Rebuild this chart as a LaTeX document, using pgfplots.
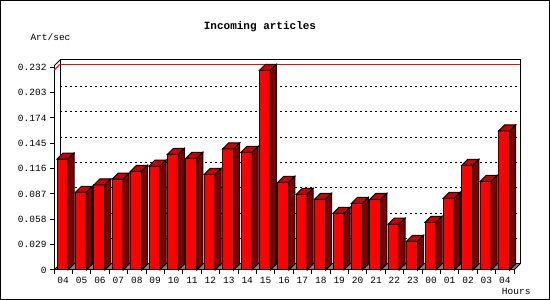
\documentclass[border=0pt]{standalone}
\usepackage{fontspec}
\setmonofont{Liberation Mono}
\usepackage{pgfplots}
\usepackage{pgfplotstable}
\pgfplotsset{compat=1.18}
\definecolor{topred}{RGB}{200,0,0}
\definecolor{sidered}{RGB}{128,0,0}
\definecolor{floorgray}{RGB}{128,128,128}

\pgfplotstableread{
i v
0 0.127
1 0.0889
2 0.0973
3 0.104
4 0.113
5 0.119
6 0.1324
7 0.1278
8 0.1095
9 0.1385
10 0.1347
11 0.2285
12 0.1004
13 0.0866
14 0.0809
15 0.0649
16 0.0763
17 0.0809
18 0.0526
19 0.0328
20 0.0546
21 0.0821
22 0.1198
23 0.1015
24 0.1591
}\datatable

\pgfdeclareplotmark{box3d}{%
  \pgfmathsetmacro{\bh}{-\barval*873.66}%
  \pgfmathsetmacro{\bhb}{\bh+6}%
  \pgfsetlinewidth{1pt}%
  \pgfsetstrokecolor{black}%
  \pgfsetfillcolor{topred}%
  \pgfpathmoveto{\pgfpoint{-6.2pt}{0pt}}%
  \pgfpathlineto{\pgfpoint{-0.2pt}{6pt}}%
  \pgfpathlineto{\pgfpoint{10.8pt}{6pt}}%
  \pgfpathlineto{\pgfpoint{4.8pt}{0pt}}%
  \pgfpathclose
  \pgfusepath{fill,stroke}%
  \pgfsetfillcolor{sidered}%
  \pgfpathmoveto{\pgfpoint{4.8pt}{0pt}}%
  \pgfpathlineto{\pgfpoint{10.8pt}{6pt}}%
  \pgfpathlineto{\pgfpoint{10.8pt}{\bhb pt}}%
  \pgfpathlineto{\pgfpoint{4.8pt}{\bh pt}}%
  \pgfpathclose
  \pgfusepath{fill,stroke}%
}

\begin{document}
\begin{tikzpicture}[x=1pt,y=1pt]
\useasboundingbox (0,0) rectangle (550,300);
\draw[line width=1pt] (0.5,0.5) rectangle (549.5,299.5);
\draw[line width=1pt, fill=white] (60,36) rectangle (520,240);
\fill[floorgray] (54,30) -- (514,30) -- (520,36) -- (60,36) -- cycle;
\draw[line width=1pt] (54,234) -- (60,240);
\draw[line width=1pt] (54,30) -- (60,36);
\draw[line width=1pt] (514,30) -- (520,36);
\node[font=\ttfamily\bfseries\fontsize{11}{12}\selectfont] at (260,273) {Incoming articles};
\node[font=\ttfamily\fontsize{9.5}{10}\selectfont, anchor=west] at (27,263) {Art/sec};
\node[font=\ttfamily\fontsize{9.5}{10}\selectfont, anchor=east] at (534,9) {Hours};
\begin{axis}[
  at={(54pt,30pt)}, anchor=south west,
  scale only axis, width=460pt, height=204pt,
  xmin=-0.5, xmax=24.5, ymin=0, ymax=0.2335,
  clip=false,
  axis x line*=bottom, axis y line*=left,
  axis line style={line width=1pt, -},
  ytick={0,0.029,0.058,0.087,0.116,0.145,0.174,0.203},
  yticklabels={0,0.029,0.058,0.087,0.116,0.145,0.174,0.203},
  extra y ticks={0.232},
  extra y tick labels={0.232},
  extra y tick style={grid=none},
  xtick={0,...,24},
  xticklabels={04,05,06,07,08,09,10,11,12,13,14,15,16,17,18,19,20,21,22,23,00,01,02,03,04},
  minor xtick={-0.5,0.5,...,24.5},
  major x tick style={draw=none},
  tick align=outside,
  major tick length=4pt, minor tick length=4pt,
  tick style={black, line width=1pt},
  ymajorgrids,
  major grid style={black, line width=1pt, dash pattern=on 2pt off 3pt, xshift=6pt, yshift=6pt},
  ticklabel style={font=\ttfamily\fontsize{9.5}{10}\selectfont},
]
\addplot[red, line width=1pt, xshift=6pt, yshift=6pt] coordinates {(-0.5,0.2285) (24.5,0.2285)};
\draw[red, line width=1pt] (axis cs:-0.5,0.2285) -- ++(6pt,6pt);
\addplot[ybar, bar width=11pt, bar shift=-0.7pt, fill=red, draw=black, line width=1pt] table[x=i, y=v] {\datatable};
\addplot[only marks, mark=box3d, draw=black, visualization depends on={rawy \as \barval}] table[x=i, y=v] {\datatable};
\end{axis}
\end{tikzpicture}
\end{document}
